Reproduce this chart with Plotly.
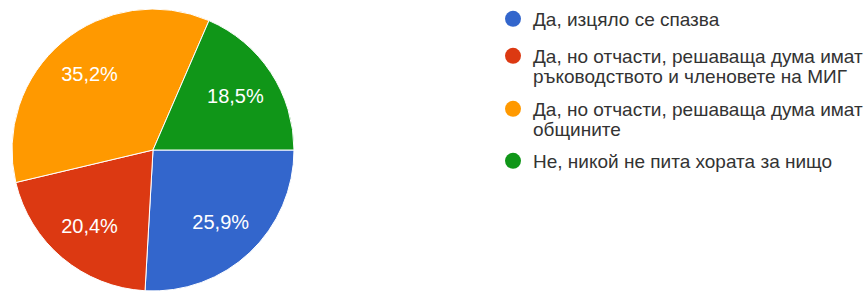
import plotly.graph_objects as go

labels = [
    "Да, изцяло се спазва",
    "Да, но отчасти, решаваща дума имат<br>ръководството и членовете на МИГ",
    "Да, но отчасти, решаваща дума имат<br>общините",
    "Не, никой не пита хората за нищо",
]
values = [25.9, 20.4, 35.2, 18.5]
value_text = ["25,9%", "20,4%", "35,2%", "18,5%"]
colors = ["#3366cc", "#dc3912", "#ff9900", "#109618"]

W, H = 867, 291
cx, cy, r = 153, 150, 141
FONT = "Arial, Liberation Sans, sans-serif"
dom = dict(x=[(cx - r) / W, (cx + r) / W], y=[max(0, (H - cy - r) / H), (H - cy + r) / H])

fig = go.Figure()
fig.add_trace(go.Pie(
    labels=labels, values=values,
    textinfo="none",
    marker=dict(colors=colors, line=dict(color="white", width=1)),
    sort=False, direction="clockwise", rotation=90,
    showlegend=False, hoverinfo="skip", domain=dom,
))
# transparent ring overlay carrying the percentage labels
fig.add_trace(go.Pie(
    labels=labels, values=values,
    text=value_text, textinfo="text", textposition="inside",
    insidetextorientation="horizontal",
    textfont=dict(family=FONT, size=20, color="white"),
    hole=0.4,
    marker=dict(colors=["rgba(0,0,0,0)"] * 4, line=dict(width=0)),
    sort=False, direction="clockwise", rotation=90,
    showlegend=False, hoverinfo="skip", domain=dom,
))

# legend: one legend box per text line so line spacing matches the reference
line_centers = [[19], [56, 76], [109, 129], [161]]
leg_x = 493 / W
layout_legends = {}
k = 0
for lab, col, cts in zip(labels, colors, line_centers):
    lines = lab.split("<br>")
    for j, (line, c) in enumerate(zip(lines, cts)):
        k += 1
        lname = "legend" if k == 1 else f"legend{k}"
        fig.add_trace(go.Scatter(
            x=[None], y=[None], mode="markers", name=line,
            marker=dict(symbol="circle", size=16,
                        color=col if j == 0 else "rgba(0,0,0,0)"),
            showlegend=True, legend=lname,
        ))
        layout_legends[lname] = dict(
            xref="container", yref="container",
            x=leg_x, y=(H - c) / H, xanchor="left", yanchor="middle",
            font=dict(family=FONT, size=19, color="#333"),
            bgcolor="rgba(0,0,0,0)", itemclick=False, itemdoubleclick=False,
        )

fig.update_layout(
    width=W, height=H,
    margin=dict(l=0, r=0, t=0, b=0, autoexpand=False),
    paper_bgcolor="white", plot_bgcolor="white",
    xaxis=dict(visible=False), yaxis=dict(visible=False),
    font=dict(family=FONT, color="#444"),
    **layout_legends,
)

fig.write_html("out.html", config={"displayModeBar": False},
               post_script="document.body.style.margin='0';")
